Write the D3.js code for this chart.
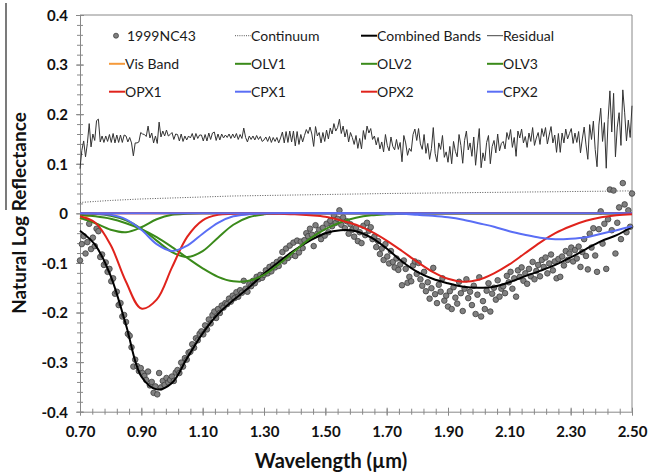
<!DOCTYPE html>
<html><head><meta charset="utf-8">
<script src="https://cdn.jsdelivr.net/npm/d3@7"></script>
<style>body{margin:0;background:#fff}svg{display:block}text{font-family:Lato,'Open Sans',sans-serif}</style>
</head><body><svg id="c" width="648" height="475"></svg>
<script>
// ---- data ----
const wavelengths = [
0.700,0.706,0.712,0.718,0.724,0.730,0.736,0.742,0.748,0.754,
0.760,0.766,0.772,0.778,0.784,0.790,0.796,0.802,0.808,0.814,
0.820,0.826,0.832,0.838,0.844,0.850,0.856,0.862,0.868,0.874,
0.880,0.886,0.892,0.898,0.904,0.910,0.916,0.922,0.928,0.934,
0.940,0.946,0.952,0.958,0.964,0.970,0.976,0.982,0.988,0.994,
1.000,1.006,1.012,1.018,1.024,1.030,1.036,1.042,1.048,1.054,
1.060,1.066,1.072,1.078,1.084,1.090,1.096,1.102,1.108,1.114,
1.120,1.126,1.132,1.138,1.144,1.150,1.156,1.162,1.168,1.174,
1.180,1.186,1.192,1.198,1.204,1.210,1.216,1.222,1.228,1.234,
1.240,1.246,1.252,1.258,1.264,1.270,1.276,1.282,1.288,1.294,
1.300,1.306,1.312,1.318,1.324,1.330,1.336,1.342,1.348,1.354,
1.360,1.366,1.372,1.378,1.384,1.390,1.396,1.402,1.408,1.414,
1.420,1.426,1.432,1.438,1.444,1.450,1.456,1.462,1.468,1.474,
1.480,1.486,1.492,1.498,1.504,1.510,1.516,1.522,1.528,1.534,
1.540,1.546,1.552,1.558,1.564,1.570,1.576,1.582,1.588,1.594,
1.600,1.606,1.612,1.618,1.624,1.630,1.636,1.642,1.648,1.654,
1.660,1.666,1.672,1.678,1.684,1.690,1.696,1.702,1.708,1.714,
1.720,1.726,1.732,1.738,1.744,1.750,1.756,1.762,1.768,1.774,
1.780,1.786,1.792,1.798,1.804,1.810,1.816,1.822,1.828,1.834,
1.840,1.846,1.852,1.858,1.864,1.870,1.876,1.882,1.888,1.894,
1.900,1.906,1.912,1.918,1.924,1.930,1.936,1.942,1.948,1.954,
1.960,1.966,1.972,1.978,1.984,1.990,1.996,2.002,2.008,2.014,
2.020,2.026,2.032,2.038,2.044,2.050,2.056,2.062,2.068,2.074,
2.080,2.086,2.092,2.098,2.104,2.110,2.116,2.122,2.128,2.134,
2.140,2.146,2.152,2.158,2.164,2.170,2.176,2.182,2.188,2.194,
2.200,2.206,2.212,2.218,2.224,2.230,2.236,2.242,2.248,2.254,
2.260,2.266,2.272,2.278,2.284,2.290,2.296,2.302,2.308,2.314,
2.320,2.326,2.332,2.338,2.344,2.350,2.356,2.362,2.368,2.374,
2.380,2.386,2.392,2.398,2.404,2.410,2.416,2.422,2.428,2.434,
2.440,2.446,2.452,2.458,2.464,2.470,2.476,2.482,2.488,2.494,
2.500];
const reflectance1999NC43 = [
-0.095,-0.062,-0.046,-0.081,-0.058,-0.021,-0.072,-0.049,-0.066,-0.031,
-0.036,-0.088,-0.083,-0.104,-0.099,-0.118,-0.112,-0.137,-0.131,-0.162,
-0.158,-0.185,-0.181,-0.208,-0.205,-0.219,-0.243,-0.247,-0.270,-0.309,
-0.295,-0.308,-0.318,-0.312,-0.322,-0.328,-0.336,-0.319,-0.347,-0.340,
-0.362,-0.349,-0.365,-0.322,-0.351,-0.338,-0.346,-0.332,-0.341,-0.336,
-0.329,-0.338,-0.321,-0.316,-0.322,-0.301,-0.309,-0.292,-0.295,-0.281,
-0.279,-0.264,-0.271,-0.252,-0.256,-0.243,-0.238,-0.244,-0.226,-0.234,
-0.214,-0.222,-0.205,-0.198,-0.211,-0.193,-0.201,-0.186,-0.190,-0.181,
-0.183,-0.172,-0.178,-0.166,-0.171,-0.159,-0.168,-0.155,-0.160,-0.136,
-0.152,-0.158,-0.143,-0.147,-0.136,-0.141,-0.128,-0.133,-0.124,-0.130,
-0.124,-0.115,-0.121,-0.108,-0.117,-0.104,-0.109,-0.098,-0.106,-0.093,
-0.078,-0.097,-0.071,-0.090,-0.065,-0.084,-0.059,-0.086,-0.055,-0.079,
-0.057,-0.070,-0.054,-0.040,-0.046,-0.031,-0.043,-0.066,-0.024,-0.041,
-0.033,-0.052,-0.029,-0.045,-0.021,-0.038,-0.015,-0.026,-0.004,-0.019,
-0.011,0.006,-0.023,-0.008,-0.030,-0.016,-0.041,-0.022,-0.033,-0.047,
-0.029,-0.056,-0.038,-0.060,-0.025,-0.044,-0.019,-0.035,-0.028,-0.052,
-0.047,-0.068,-0.056,-0.082,-0.071,-0.094,-0.062,-0.087,-0.101,-0.076,
-0.098,-0.109,-0.091,-0.114,-0.103,-0.145,-0.095,-0.112,-0.140,-0.128,
-0.137,-0.105,-0.097,-0.122,-0.100,-0.133,-0.146,-0.118,-0.157,-0.139,
-0.172,-0.151,-0.110,-0.163,-0.181,-0.144,-0.158,-0.131,-0.176,-0.166,
-0.188,-0.157,-0.193,-0.149,-0.170,-0.182,-0.138,-0.161,-0.197,-0.152,
-0.133,-0.171,-0.158,-0.185,-0.146,-0.203,-0.164,-0.129,-0.208,-0.177,
-0.193,-0.156,-0.141,-0.198,-0.162,-0.150,-0.174,-0.135,-0.168,-0.152,
-0.147,-0.161,-0.126,-0.139,-0.118,-0.152,-0.131,-0.168,-0.115,-0.128,
-0.109,-0.136,-0.121,-0.142,-0.112,-0.127,-0.098,-0.133,-0.116,-0.104,
-0.127,-0.094,-0.108,-0.089,-0.121,-0.101,-0.083,-0.115,-0.097,-0.131,
-0.092,-0.128,-0.087,-0.105,-0.076,-0.094,-0.081,-0.069,-0.097,-0.074,
-0.091,-0.067,-0.108,-0.078,-0.052,-0.086,-0.113,-0.041,-0.069,-0.030,
-0.085,-0.118,-0.032,0.004,-0.061,-0.021,-0.112,-0.012,0.048,-0.034,
0.046,-0.081,-0.019,0.012,-0.052,0.061,0.018,-0.038,0.006,-0.027,
0.040];
const residual = [
0.090,0.127,0.146,0.114,0.141,0.181,0.134,0.160,0.147,0.187,
0.190,0.144,0.156,0.143,0.156,0.145,0.159,0.143,0.161,0.142,
0.158,0.143,0.158,0.143,0.158,0.156,0.144,0.153,0.142,0.116,
0.142,0.142,0.144,0.163,0.160,0.159,0.155,0.176,0.152,0.162,
0.142,0.156,0.141,0.184,0.154,0.166,0.156,0.168,0.156,0.159,
0.163,0.149,0.160,0.159,0.146,0.160,0.145,0.156,0.148,0.156,
0.152,0.161,0.148,0.161,0.151,0.158,0.158,0.146,0.159,0.146,
0.162,0.149,0.162,0.164,0.147,0.160,0.148,0.160,0.152,0.158,
0.153,0.160,0.151,0.160,0.152,0.161,0.149,0.159,0.151,0.172,
0.153,0.144,0.156,0.149,0.156,0.148,0.157,0.149,0.155,0.145,
0.148,0.154,0.145,0.155,0.143,0.153,0.145,0.153,0.142,0.152,
0.164,0.142,0.165,0.143,0.166,0.144,0.166,0.136,0.165,0.139,
0.159,0.144,0.157,0.169,0.161,0.174,0.160,0.135,0.175,0.156,
0.163,0.142,0.163,0.145,0.168,0.150,0.172,0.160,0.181,0.166,
0.173,0.190,0.161,0.176,0.154,0.169,0.144,0.163,0.153,0.139,
0.157,0.131,0.151,0.130,0.167,0.149,0.176,0.162,0.171,0.149,
0.156,0.138,0.153,0.130,0.144,0.124,0.159,0.137,0.126,0.154,
0.135,0.128,0.149,0.129,0.143,0.104,0.157,0.142,0.117,0.131,
0.125,0.159,0.170,0.147,0.171,0.140,0.129,0.159,0.121,0.141,
0.109,0.131,0.173,0.121,0.104,0.142,0.129,0.157,0.113,0.124,
0.103,0.135,0.100,0.145,0.125,0.114,0.159,0.137,0.101,0.147,
0.166,0.128,0.142,0.115,0.154,0.097,0.136,0.171,0.092,0.122,
0.106,0.143,0.157,0.100,0.135,0.147,0.122,0.160,0.126,0.141,
0.145,0.130,0.163,0.149,0.169,0.133,0.153,0.115,0.166,0.152,
0.170,0.142,0.155,0.133,0.162,0.145,0.173,0.137,0.152,0.163,
0.139,0.171,0.155,0.173,0.140,0.158,0.175,0.142,0.158,0.123,
0.161,0.123,0.162,0.142,0.170,0.150,0.161,0.171,0.141,0.162,
0.143,0.165,0.122,0.150,0.174,0.138,0.109,0.179,0.149,0.186,
0.129,0.094,0.178,0.212,0.145,0.183,0.091,0.189,0.247,0.164,
0.242,0.114,0.174,0.203,0.137,0.249,0.204,0.146,0.188,0.153,
0.217];

const modelWavelengths = [0.70,0.75,0.80,0.85,0.90,0.95,1.00,1.05,1.10,1.15,1.20,1.25,1.30,1.35,1.40,1.45,1.50,1.55,1.60,1.65,1.70,1.75,1.80,1.85,1.90,1.95,2.00,2.05,2.10,2.15,2.20,2.25,2.30,2.35,2.40,2.45,2.50];
const continuum = [0.022,0.024,0.026,0.0275,0.029,0.030,0.031,0.032,0.033,0.034,0.035,0.0355,0.036,0.0365,0.037,0.0375,0.038,0.0385,0.039,0.0395,0.040,0.0403,0.0406,0.041,0.0413,0.0416,0.042,0.0423,0.0426,0.043,0.0433,0.0436,0.044,0.0443,0.0446,0.045,0.0453];
const combinedBands = [-0.035,-0.064,-0.126,-0.225,-0.329,-0.355,-0.342,-0.291,-0.242,-0.203,-0.175,-0.150,-0.122,-0.097,-0.074,-0.055,-0.040,-0.034,-0.036,-0.049,-0.071,-0.097,-0.118,-0.132,-0.141,-0.148,-0.150,-0.148,-0.139,-0.127,-0.116,-0.104,-0.089,-0.072,-0.056,-0.044,-0.027];
const visBand = [-0.012,-0.002,0,0,0,0,0,0,0,0,0,0,0,0,0,0,0,0,0,0,0,0,0,0,0,0,0,0,0,0,0,0,0,0,0,0,0];
const olv1 = [-0.009,-0.020,-0.033,-0.038,-0.028,-0.012,-0.003,-0.001,0,0,0,0,0,0,0,0,0,0,0,0,0,0,0,0,0,0,0,0,0,0,0,0,0,0,0,0,0];
const olv2 = [0,-0.001,-0.005,-0.014,-0.031,-0.055,-0.078,-0.088,-0.076,-0.049,-0.023,-0.008,-0.002,0,0,0,0,0,0,0,0,0,0,0,0,0,0,0,0,0,0,0,0,0,0,0,0];
const olv3 = [-0.003,-0.006,-0.011,-0.020,-0.032,-0.048,-0.068,-0.090,-0.111,-0.128,-0.137,-0.136,-0.124,-0.102,-0.076,-0.051,-0.032,-0.018,-0.009,-0.004,-0.002,-0.001,0,0,0,0,0,0,0,0,0,0,0,0,0,0,0];
const opx1 = [-0.006,-0.019,-0.064,-0.138,-0.192,-0.174,-0.109,-0.047,-0.014,-0.003,-0.001,0,0,0,0,0,0,0,0,0,0,0,0,0,0,0,0,0,0,0,0,0,0,0,0,0,0];
const cpx1 = [0,-0.001,-0.003,-0.012,-0.033,-0.062,-0.076,-0.065,-0.041,-0.019,-0.006,-0.002,0,0,0,0,0,0,0,0,0,0,0,0,0,0,0,0,0,0,0,0,0,0,0,0,0];
const opx2 = [0,0,0,0,0,0,0,0,0,0,0,0,0,-0.001,-0.002,-0.004,-0.007,-0.014,-0.023,-0.037,-0.055,-0.076,-0.098,-0.118,-0.132,-0.138,-0.134,-0.121,-0.103,-0.081,-0.059,-0.040,-0.026,-0.015,-0.008,-0.004,-0.002];
const cpx2 = [0,0,0,0,0,0,0,0,0,0,0,0,0,0,0,0,0,0,0,0,-0.001,-0.001,-0.003,-0.005,-0.008,-0.013,-0.020,-0.027,-0.036,-0.043,-0.049,-0.052,-0.051,-0.048,-0.041,-0.034,-0.026];

const xTickValues = [0.70,0.90,1.10,1.30,1.50,1.70,1.90,2.10,2.30,2.50];
const xTickLabels = ["0.70","0.90","1.10","1.30","1.50","1.70","1.90","2.10","2.30","2.50"];
const yTickValues = [0.4,0.3,0.2,0.1,0,-0.1,-0.2,-0.3,-0.4];
const yTickLabels = ["0.4","0.3","0.2","0.1","0","-0.1","-0.2","-0.3","-0.4"];
const legendNames = ["1999NC43","Continuum","Combined Bands","Residual","Vis Band","OLV1","OLV2","OLV3","OPX1","CPX1","OPX2","CPX2"];

// ---- drawing ----
const W=648,H=475,L=80,R=632,T=15,B=411.7;
const svg=d3.select('#c');
svg.append('rect').attr('width',W).attr('height',H).attr('fill','#fff');
const x=d3.scaleLinear().domain([0.7,2.5]).range([L,R]);
const y=d3.scaleLinear().domain([-0.4,0.4]).range([B,T]);
const axisCol='#888';

// stray edge line at far left
svg.append('line').attr('x1',6).attr('x2',6).attr('y1',3).attr('y2',210).attr('stroke','#333').attr('stroke-width',1.3);

// frame
svg.append('line').attr('x1',L).attr('x2',R).attr('y1',T).attr('y2',T).attr('stroke',axisCol);
svg.append('line').attr('x1',R).attr('x2',R).attr('y1',T).attr('y2',B).attr('stroke',axisCol);

// y axis
const yMinor=d3.range(-20,21).map(i=>i*0.02);
const yAx=svg.append('g').attr('transform',`translate(${L},0)`)
  .call(d3.axisLeft(y).tickValues(yMinor).tickFormat('').tickSizeOuter(0));
yAx.select('.domain').attr('stroke',axisCol);
yAx.selectAll('.tick line').attr('x1',-3).attr('x2',3).attr('stroke',axisCol);
const yMaj=svg.append('g').attr('transform',`translate(${L},0)`)
  .call(d3.axisLeft(y).tickValues(yTickValues).tickFormat((d,i)=>yTickLabels[i]).tickSizeOuter(0));
yMaj.select('.domain').remove();
yMaj.selectAll('.tick line').attr('x1',-4).attr('x2',4).attr('stroke',axisCol);
yMaj.selectAll('.tick text').attr('x',-12).attr('dy','0.36em').attr('font-size',15).attr('font-weight','bold').attr('fill','#111').attr('font-family','Lato');

// x axis
const xMinor=d3.range(0,46).map(i=>0.7+i*0.04);
const xAx=svg.append('g').attr('transform',`translate(0,${B})`)
  .call(d3.axisBottom(x).tickValues(xMinor).tickFormat('').tickSizeOuter(0));
xAx.select('.domain').attr('stroke',axisCol);
xAx.selectAll('.tick line').attr('y1',-3).attr('y2',3).attr('stroke',axisCol);
const xMaj=svg.append('g').attr('transform',`translate(0,${B})`)
  .call(d3.axisBottom(x).tickValues(xTickValues).tickFormat((d,i)=>xTickLabels[i]).tickSizeOuter(0));
xMaj.select('.domain').remove();
xMaj.selectAll('.tick line').attr('y1',-4).attr('y2',4).attr('stroke',axisCol);
xMaj.selectAll('.tick text').attr('y',15).attr('dy','0.71em').attr('font-size',15).attr('font-weight','bold').attr('fill','#111').attr('font-family','Lato');

// titles
svg.append('text').attr('x',331).attr('y',468).attr('text-anchor','middle')
  .attr('font-size',20).attr('font-weight','bold').attr('fill','#111').text('Wavelength (µm)');
svg.append('text').attr('transform','translate(26,213) rotate(-90)').attr('text-anchor','middle')
  .attr('font-size',19).attr('font-weight','bold').attr('fill','#111').text('Natural Log Reflectance');

// data points
const plot=svg.append('g');
plot.selectAll('circle').data(wavelengths).join('circle')
  .attr('cx',d=>x(d)).attr('cy',(d,i)=>y(reflectance1999NC43[i])).attr('r',2.8)
  .attr('fill','#808080').attr('stroke','#404040').attr('stroke-width',0.8);

const lineM=d3.line().x((d,i)=>x(modelWavelengths[i])).y(d=>y(d)).curve(d3.curveCatmullRom.alpha(0.5));
const lineR=d3.line().x((d,i)=>x(wavelengths[i])).y(d=>y(d));

plot.append('path').attr('d',lineM(continuum)).attr('fill','none').attr('stroke','#555').attr('stroke-width',1).attr('stroke-dasharray','1,1.5');
plot.append('path').attr('d',lineM(combinedBands)).attr('fill','none').attr('stroke','#000').attr('stroke-width',2);
plot.append('path').attr('d',lineR(residual)).attr('fill','none').attr('stroke','#333').attr('stroke-width',1);

const RED='#e0231c',GREEN='#3a8a1a',BLUE='#5a6ef5',ORANGE='#f59a3b';
const bands=[[visBand,ORANGE],[olv1,GREEN],[olv2,GREEN],[olv3,GREEN],[opx1,RED],[cpx1,BLUE],[opx2,RED],[cpx2,BLUE]];
bands.forEach(([arr,col])=>{
  plot.append('path').attr('d',lineM(arr)).attr('fill','none').attr('stroke',col).attr('stroke-width',2);
});

// legend
const colX=[109,235,361,487];
const rowY=[35.7,63.8,91.7];
const legStyles=[
  {type:'dot'},{type:'dotted',col:'#555'},{type:'line',col:'#000',w:2},{type:'line',col:'#444',w:1},
  {type:'line',col:ORANGE,w:2},{type:'line',col:GREEN,w:2},{type:'line',col:GREEN,w:2},{type:'line',col:GREEN,w:2},
  {type:'line',col:RED,w:2},{type:'line',col:BLUE,w:2},{type:'line',col:RED,w:2},{type:'line',col:BLUE,w:2}
];
const leg=svg.append('g');
legendNames.forEach((name,i)=>{
  const cx=colX[i%4], cy=rowY[Math.floor(i/4)], s=legStyles[i];
  let tx=cx+16;
  if(s.type==='dot'){
    leg.append('circle').attr('cx',cx+7).attr('cy',cy).attr('r',2.5).attr('fill','#808080').attr('stroke','#404040').attr('stroke-width',0.8);
    tx=cx+18;
  } else if(s.type==='dotted'){
    leg.append('line').attr('x1',cx).attr('x2',cx+16).attr('y1',cy).attr('y2',cy).attr('stroke',s.col).attr('stroke-width',1).attr('stroke-dasharray','1,1.2');
  } else {
    leg.append('line').attr('x1',cx).attr('x2',cx+16).attr('y1',cy).attr('y2',cy).attr('stroke',s.col).attr('stroke-width',s.w);
  }
  leg.append('text').attr('x',tx).attr('y',cy).attr('dy','0.36em').attr('font-size',14).attr('fill','#1a1a1a').text(name);
});
</script></body></html>
